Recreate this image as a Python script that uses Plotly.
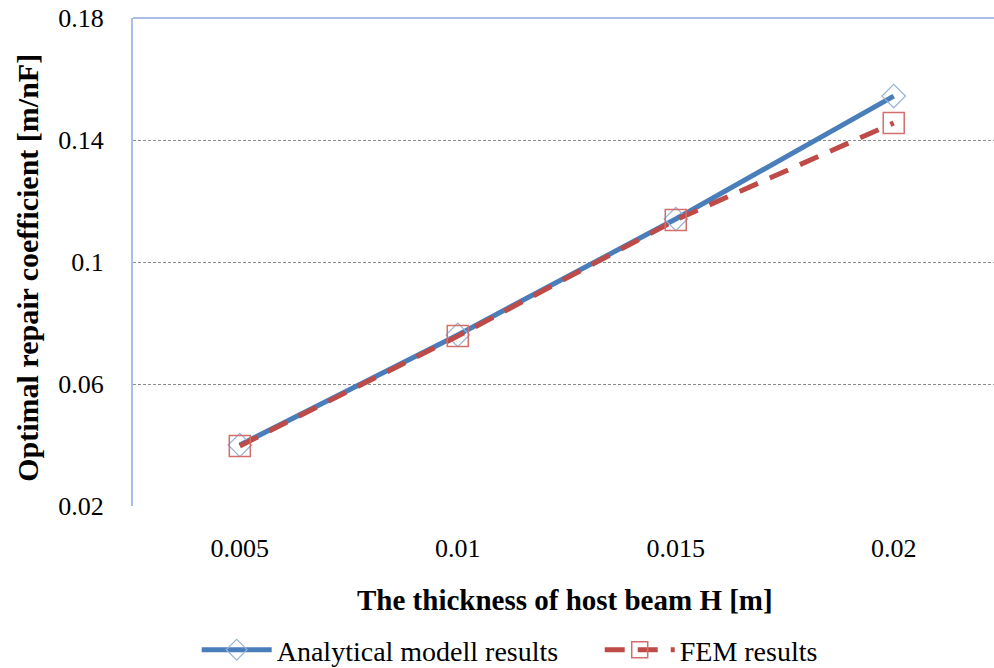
import plotly.graph_objects as go

thickness = ["0.005", "0.01", "0.015", "0.02"]
analytical = [0.0400, 0.0761, 0.1141, 0.1544]
fem = [0.0397, 0.0757, 0.1138, 0.1456]

FONT = "Liberation Serif, Times New Roman, serif"

fig = go.Figure()
fig.add_trace(go.Scatter(
    x=thickness, y=analytical, name="Analytical modell results",
    mode="lines+markers",
    line=dict(color="#4a7ebb", width=5),
    marker=dict(symbol="diamond-open", size=18, color="#95b3d7", line=dict(width=1.2, color="#95b3d7")),
))
fig.add_trace(go.Scatter(
    x=thickness, y=fem, name="FEM results",
    mode="lines+markers",
    line=dict(color="#be4b48", width=5, dash="20px,13px"),
    marker=dict(symbol="square-open", size=21, color="#d46e6b", line=dict(width=1.5, color="#d46e6b")),
))

fig.update_layout(
    width=994, height=668,
    margin=dict(l=133, r=0, t=18, b=162, autoexpand=False),
    paper_bgcolor="white", plot_bgcolor="white",
    font=dict(family=FONT, size=22, color="black"),
    showlegend=True,
    legend=dict(orientation="h", x=0.074, y=-0.295, xanchor="left", yanchor="middle",
                font=dict(family=FONT, size=28, color="black"), itemwidth=70,
                entrywidth=318, entrywidthmode="pixels",
                traceorder="normal"),
    xaxis=dict(type="category", range=[-0.49, 3.46], showgrid=False, showline=False,
               zeroline=False, ticks="", ticklabelstandoff=24,
               tickfont=dict(family=FONT, size=26)),
    yaxis=dict(range=[0.02, 0.18], dtick=0.04, tick0=0.02, showgrid=True,
               gridcolor="#8c8c8c", gridwidth=1, griddash="3px,2px",
               showline=True, linecolor="#a8c0e6", linewidth=2,
               zeroline=False, ticks="", ticklabelstandoff=22,
               tickfont=dict(family=FONT, size=26)),
    shapes=[dict(type="line", xref="paper", yref="paper", x0=0, x1=1, y0=1, y1=1,
                 line=dict(color="#a8c0e6", width=2))],
    annotations=[
        dict(text="<b>The thickness of host beam H [m]</b>", xref="paper", yref="paper",
             x=0.502, y=-0.1926, xanchor="center", yanchor="middle", showarrow=False,
             font=dict(family=FONT, size=29, color="black")),
        dict(text="<b>Optimal repair coefficient [m/nF]</b>", xref="paper", yref="paper",
             x=-0.122, y=0.488, xanchor="center", yanchor="middle", showarrow=False,
             textangle=-90, font=dict(family=FONT, size=30, color="black")),
    ],
)

fig.write_html("out.html")
